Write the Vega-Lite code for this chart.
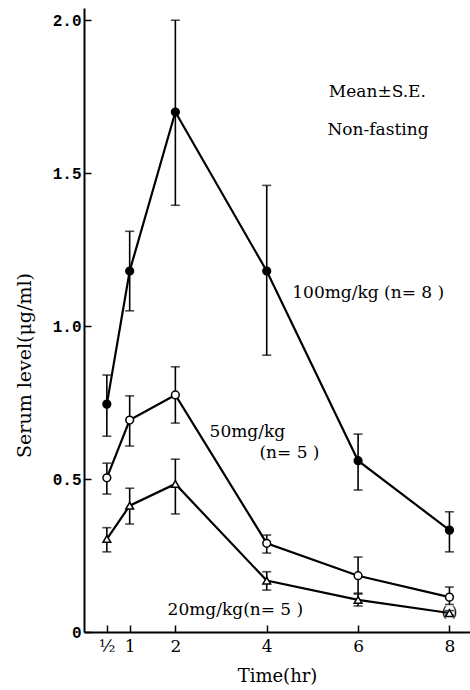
{
  "$schema": "https://vega.github.io/schema/vega-lite/v6.json",
  "width": 386,
  "height": 624,
  "autosize": {"type": "none"},
  "padding": {"left": 84, "top": 8, "right": 0, "bottom": 58},
  "background": "white",
  "config": {
    "view": {"stroke": null},
    "axis": {"domainColor": "black", "domainWidth": 2, "tickColor": "black", "tickWidth": 1.5, "grid": false, "labelColor": "black", "titleColor": "black"}
  },
  "datasets": {
    "obs": [
      {"t": 0.5, "dose": "100mg/kg", "mean": 0.745, "lo": 0.64, "hi": 0.84},
      {"t": 1, "dose": "100mg/kg", "mean": 1.18, "lo": 1.05, "hi": 1.31},
      {"t": 2, "dose": "100mg/kg", "mean": 1.70, "lo": 1.395, "hi": 2.0},
      {"t": 4, "dose": "100mg/kg", "mean": 1.18, "lo": 0.905, "hi": 1.46},
      {"t": 6, "dose": "100mg/kg", "mean": 0.56, "lo": 0.464, "hi": 0.647},
      {"t": 8, "dose": "100mg/kg", "mean": 0.333, "lo": 0.262, "hi": 0.393},
      {"t": 0.5, "dose": "50mg/kg", "mean": 0.504, "lo": 0.451, "hi": 0.552},
      {"t": 1, "dose": "50mg/kg", "mean": 0.693, "lo": 0.608, "hi": 0.772},
      {"t": 2, "dose": "50mg/kg", "mean": 0.775, "lo": 0.683, "hi": 0.867},
      {"t": 4, "dose": "50mg/kg", "mean": 0.29, "lo": 0.258, "hi": 0.317},
      {"t": 6, "dose": "50mg/kg", "mean": 0.184, "lo": 0.127, "hi": 0.245},
      {"t": 8, "dose": "50mg/kg", "mean": 0.114, "lo": 0.09, "hi": 0.147},
      {"t": 0.5, "dose": "20mg/kg", "mean": 0.304, "lo": 0.262, "hi": 0.341},
      {"t": 1, "dose": "20mg/kg", "mean": 0.413, "lo": 0.353, "hi": 0.47},
      {"t": 2, "dose": "20mg/kg", "mean": 0.484, "lo": 0.386, "hi": 0.565},
      {"t": 4, "dose": "20mg/kg", "mean": 0.168, "lo": 0.137, "hi": 0.197},
      {"t": 6, "dose": "20mg/kg", "mean": 0.105, "lo": 0.085, "hi": 0.124},
      {"t": 8, "dose": "20mg/kg", "mean": 0.062, "lo": 0.055, "hi": 0.07}
    ],
    "notes": [
      {"label": "Mean±S.E.", "t": 5.36, "v": 1.765},
      {"label": "Non-fasting", "t": 5.33, "v": 1.64},
      {"label": "100mg/kg (n= 8 )", "t": 4.56, "v": 1.108},
      {"label": "50mg/kg", "t": 2.75, "v": 0.654},
      {"label": "(n= 5 )", "t": 3.84, "v": 0.585},
      {"label": "20mg/kg(n= 5 )", "t": 1.83, "v": 0.072}
    ]
  },
  "encoding": {
    "x": {
      "field": "t", "type": "quantitative",
      "scale": {"domain": [0, 8.45], "nice": false, "zero": false},
      "axis": {
        "values": [0.5, 1, 2, 4, 6, 8],
        "labelExpr": "datum.value == 0.5 ? '½' : datum.label",
        "title": "Time(hr)",
        "tickSize": -7,
        "labelPadding": 13,
        "labelFont": "DejaVu Serif",
        "labelFontSize": 17,
        "titleFont": "DejaVu Serif",
        "titleFontSize": 18,
        "titleFontWeight": "normal",
        "titlePadding": 13
      }
    }
  },
  "layer": [
    {
      "data": {"name": "obs"},
      "mark": {"type": "line", "color": "black", "strokeWidth": 2.2},
      "encoding": {
        "y": {
          "field": "mean", "type": "quantitative",
          "scale": {"domain": [0, 2.04], "nice": false},
          "axis": {
            "values": [0, 0.5, 1, 1.5, 2],
            "labelExpr": "datum.value == 0 ? '0' : format(datum.value, '.1f')",
            "title": "Serum level(μg/ml)",
            "tickSize": -7,
            "labelPadding": 10,
            "labelFont": "Liberation Mono",
            "labelFontWeight": "bold",
            "labelFontSize": 16,
            "titleFont": "DejaVu Serif",
            "titleFontSize": 19,
            "titleFontWeight": "normal",
            "titlePadding": 18,
            "titleY": 357
          }
        },
        "detail": {"field": "dose"}
      }
    },
    {
      "data": {"name": "obs"},
      "mark": {"type": "rule", "color": "black", "strokeWidth": 1.6},
      "encoding": {
        "y": {"field": "lo", "type": "quantitative"},
        "y2": {"field": "hi"}
      }
    },
    {
      "data": {"name": "obs"},
      "transform": [{"fold": ["lo", "hi"], "as": ["end", "val"]}],
      "mark": {"type": "tick", "color": "black", "orient": "horizontal", "size": 9, "thickness": 1.6},
      "encoding": {
        "y": {"field": "val", "type": "quantitative"}
      }
    },
    {
      "data": {"name": "obs"},
      "mark": {"type": "point", "filled": true, "stroke": "black", "strokeWidth": 1.5, "opacity": 1},
      "encoding": {
        "y": {"field": "mean", "type": "quantitative"},
        "shape": {"field": "dose", "type": "nominal", "legend": null,
          "scale": {"domain": ["100mg/kg", "50mg/kg", "20mg/kg"], "range": ["circle", "circle", "triangle-up"]}},
        "fill": {"field": "dose", "type": "nominal", "legend": null,
          "scale": {"domain": ["100mg/kg", "50mg/kg", "20mg/kg"], "range": ["black", "white", "white"]}},
        "size": {"field": "dose", "type": "nominal", "legend": null,
          "scale": {"domain": ["100mg/kg", "50mg/kg", "20mg/kg"], "range": [60, 60, 85]}}
      }
    },
    {
      "data": {"values": [{"t": 8, "v": 0.062, "p": "(     )"}]},
      "mark": {"type": "text", "font": "DejaVu Serif", "fontSize": 14, "color": "black", "align": "center", "baseline": "middle"},
      "encoding": {
        "y": {"field": "v", "type": "quantitative"},
        "text": {"field": "p"}
      }
    },
    {
      "data": {"name": "notes"},
      "mark": {"type": "text", "font": "DejaVu Serif", "fontSize": 17, "color": "black", "align": "left", "baseline": "middle"},
      "encoding": {
        "y": {"field": "v", "type": "quantitative"},
        "text": {"field": "label"}
      }
    }
  ]
}
